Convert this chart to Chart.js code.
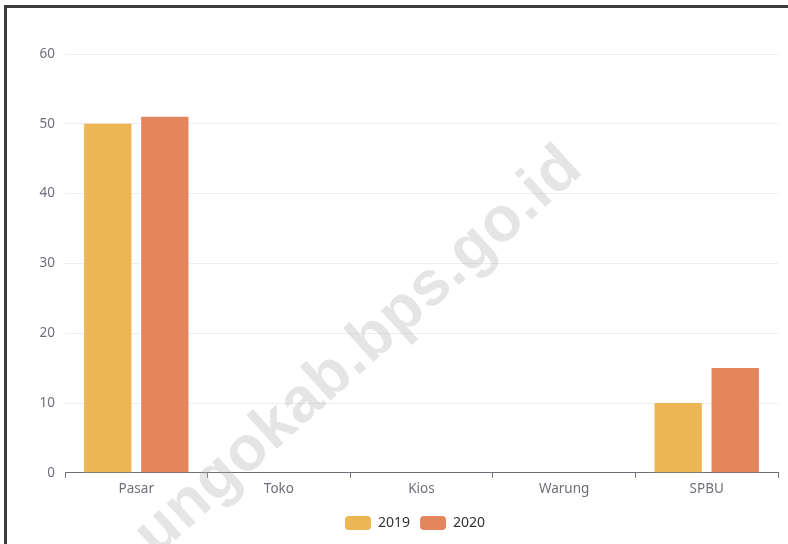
<!DOCTYPE html>
<html>
<head>
<meta charset="utf-8">
<script src="https://cdn.jsdelivr.net/npm/chart.js@4.4.1/dist/chart.umd.min.js"></script>
<style>
  html, body { margin: 0; padding: 0; background: #fff; }
  #wrap { position: relative; width: 788px; height: 544px; overflow: hidden; }
  #frame { position: absolute; left: 4px; top: 5px; right: 0; bottom: -10px;
           border-left: 3px solid #3c3c3c; border-top: 3px solid #3c3c3c; }
  #box { position: absolute; left: 0; top: 0; width: 788px; height: 544px; }
  #mark { position: absolute; left: 356px; top: 348px; transform: translate(-50%, -50%) rotate(-42deg);
          font: bold 63px "Liberation Sans", Arial, sans-serif; color: rgba(170,170,170,0.3);
          letter-spacing: 1px; white-space: nowrap; pointer-events: none; }
</style>
</head>
<body>
<div id="wrap">
  <div id="box"><canvas id="chart"></canvas></div>
  <div id="frame"></div>
  <div id="mark">ungokab.bps.go.id</div>
</div>
<script>
const categories = ['Pasar', 'Toko', 'Kios', 'Warung', 'SPBU'];
const values2019 = [50, 0, 0, 0, 10];
const values2020 = [51, 0, 0, 0, 15];
const yTicks = [0, 10, 20, 30, 40, 50, 60];

const palette = {
    amber: '#edb655',
    coral: '#e3855d',
    axis: '#6e7079',
    grid: '#eceef3',
};

const font = { family: '"Noto Sans", "Open Sans", sans-serif', size: 13.5 };

// the legend sits a bit right of the canvas centre and close to the bottom edge
const legendShift = {
    id: 'legendShift',
    afterLayout(chart) {
        const l = chart.legend;
        if (!l) return;
        l.left += 26; l.right += 26;
        l.top += 6; l.bottom += 6;
    },
};

new Chart(document.getElementById('chart'), {
    type: 'bar',
    data: {
        labels: categories,
        datasets: [
            { label: '2019', data: values2019, backgroundColor: palette.amber },
            { label: '2020', data: values2020, backgroundColor: palette.coral },
        ],
    },
    options: {
        responsive: true,
        maintainAspectRatio: false,
        animation: false,
        categoryPercentage: 0.8,
        barPercentage: 0.83,
        layout: { padding: { top: 54, right: 10, left: 0, bottom: 10 } },
        plugins: {
            tooltip: { enabled: false },
            legend: {
                position: 'bottom',
                labels: {
                    boxWidth: 26, boxHeight: 14, useBorderRadius: true, borderRadius: 4,
                    color: '#333', font: { ...font, size: 14 }, padding: 10,
                },
            },
        },
        scales: {
            x: {
                border: { display: true, color: palette.axis, width: 1 },
                grid: { display: true, offset: true, drawOnChartArea: false, drawTicks: true, tickLength: 5, color: palette.axis },
                ticks: { color: palette.axis, font, padding: 3 },
            },
            y: {
                min: 0, max: 60,
                afterFit: (scale) => { scale.width = 65; },
                afterBuildTicks: (scale) => { scale.ticks = yTicks.map((v) => ({ value: v })); },
                border: { display: false },
                grid: { color: palette.grid, drawTicks: false },
                ticks: { color: palette.axis, font, padding: 10 },
            },
        },
    },
    plugins: [legendShift],
});
</script>
</body>
</html>
